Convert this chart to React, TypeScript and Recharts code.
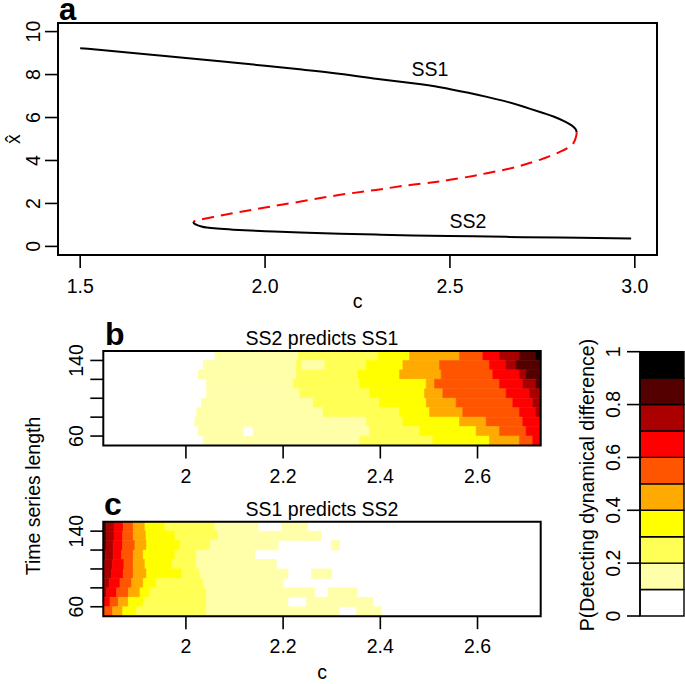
import React from 'react';
import { ComposedChart, Line, XAxis, YAxis, ReferenceArea, Scatter } from 'recharts';

const FONT = '"Liberation Sans", Arial, Helvetica, sans-serif';
const FS = 19.5;

// ---------- Panel a: equilibrium curve ----------
const ss1Branch = [
  { c: 1.5, v: 9.23 }, { c: 1.6, v: 9.07 }, { c: 1.7, v: 8.91 }, { c: 1.8, v: 8.75 },
  { c: 1.9, v: 8.58 }, { c: 2.0, v: 8.41 }, { c: 2.1, v: 8.23 }, { c: 2.2, v: 8.04 },
  { c: 2.3, v: 7.81 }, { c: 2.4, v: 7.59 }, { c: 2.473, v: 7.41 }, { c: 2.55, v: 7.15 },
  { c: 2.6, v: 6.96 }, { c: 2.653, v: 6.74 }, { c: 2.7, v: 6.5 }, { c: 2.75, v: 6.22 },
  { c: 2.78, v: 6.05 }, { c: 2.81, v: 5.82 }, { c: 2.83, v: 5.62 }, { c: 2.84, v: 5.45 },
  { c: 2.843, v: 5.3 },
];
const unstableBranch = [
  { c: 2.843, v: 5.3 }, { c: 2.841, v: 5.1 }, { c: 2.834, v: 4.81 }, { c: 2.82, v: 4.6 },
  { c: 2.8, v: 4.42 }, { c: 2.77, v: 4.2 }, { c: 2.743, v: 4.03 }, { c: 2.7, v: 3.8 },
  { c: 2.65, v: 3.58 }, { c: 2.6, v: 3.41 }, { c: 2.563, v: 3.28 }, { c: 2.5, v: 3.1 },
  { c: 2.45, v: 2.97 }, { c: 2.383, v: 2.84 }, { c: 2.3, v: 2.63 }, { c: 2.203, v: 2.4 },
  { c: 2.1, v: 2.1 }, { c: 2.0, v: 1.81 }, { c: 1.914, v: 1.55 }, { c: 1.86, v: 1.37 },
  { c: 1.824, v: 1.24 }, { c: 1.81, v: 1.18 }, { c: 1.806, v: 1.14 },
];
const ss2Branch = [
  { c: 1.806, v: 1.14 }, { c: 1.808, v: 1.07 }, { c: 1.815, v: 1.0 }, { c: 1.828, v: 0.93 },
  { c: 1.842, v: 0.88 }, { c: 1.87, v: 0.83 }, { c: 1.914, v: 0.78 }, { c: 2.0, v: 0.71 },
  { c: 2.095, v: 0.65 }, { c: 2.203, v: 0.59 }, { c: 2.3, v: 0.55 }, { c: 2.4, v: 0.51 },
  { c: 2.563, v: 0.47 }, { c: 2.7, v: 0.43 }, { c: 2.85, v: 0.4 }, { c: 2.99, v: 0.37 },
];
const aXTicks = [1.5, 2.0, 2.5, 3.0];
const aYTicks = [0, 2, 4, 6, 8, 10];

// ---------- Panels b, c: detection probability ----------
const levelColors = ['#FFFFFF', '#FFFFAA', '#FFFF55', '#FFFF00', '#FFAA00', '#FF5500', '#FF0000', '#AA0000', '#550000', '#000000'];
const levelBreaks = [0, 0.1, 0.2, 0.3, 0.4, 0.5, 0.6, 0.7, 0.8, 0.9, 1.0];
const levelTicks = [0, 0.2, 0.4, 0.6, 0.8, 1];
const cMin = 1.83;
const cMax = 2.73;
const bandLower = [140, 130, 120, 110, 100, 90, 80, 70, 60, 50];
const bandHeight = 10;
const contourXTicks = [2, 2.2, 2.4, 2.6];
const contourYTicks = [60, 80, 100, 120, 140];
const contourYLabels = [60, 140];

// each row: [c where a level starts, level index]
const ss2PredictsSs1: number[][][] = [
  [[1.83, 0], [2.0595, 1], [2.2308, 2], [2.3951, 3], [2.4602, 4], [2.5629, 5], [2.6109, 6], [2.6451, 7], [2.6862, 8], [2.7204, 9]],
  [[1.83, 0], [2.0356, 1], [2.2274, 2], [2.2377, 1], [2.2855, 2], [2.3711, 3], [2.4465, 4], [2.5218, 5], [2.6246, 6], [2.6588, 7], [2.6794, 8]],
  [[1.83, 0], [2.0253, 1], [2.2274, 2], [2.354, 3], [2.4396, 4], [2.5252, 5], [2.6314, 6], [2.6862, 7], [2.6999, 8]],
  [[1.83, 0], [2.0424, 1], [2.2205, 2], [2.3574, 3], [2.4944, 4], [2.5115, 5], [2.6451, 6], [2.6931, 7], [2.7204, 8]],
  [[1.83, 0], [2.0424, 1], [2.2342, 2], [2.378, 3], [2.491, 4], [2.5286, 5], [2.6588, 6], [2.7068, 7]],
  [[1.83, 0], [2.0321, 1], [2.2616, 2], [2.3985, 3], [2.4944, 4], [2.556, 5], [2.6725, 6], [2.7136, 7]],
  [[1.83, 0], [2.0219, 1], [2.2822, 2], [2.4396, 3], [2.5013, 4], [2.5697, 5], [2.6862, 6], [2.7204, 7]],
  [[1.83, 0], [2.0184, 1], [2.3711, 2], [2.4465, 3], [2.5629, 4], [2.6177, 5], [2.6931, 6]],
  [[1.83, 0], [2.0253, 1], [2.118, 0], [2.138, 1], [2.378, 2], [2.4807, 3], [2.5972, 4], [2.6451, 5], [2.6999, 6]],
  [[1.83, 0], [2.0356, 1], [2.3574, 2], [2.5081, 3], [2.6246, 4], [2.6862, 5], [2.7136, 6]],
];
const ss1PredictsSs2: number[][][] = [
  [[1.83, 8], [1.8369, 7], [1.852, 6], [1.8712, 5], [1.8917, 4], [1.9157, 3], [1.9568, 2], [2.0595, 1], [2.149, 0], [2.196, 1], [2.251, 0]],
  [[1.83, 8], [1.8369, 7], [1.852, 6], [1.8698, 5], [1.8917, 4], [1.9178, 3], [1.9773, 2], [2.0664, 1], [2.279, 0]],
  [[1.83, 8], [1.8355, 7], [1.8506, 6], [1.8698, 5], [1.8951, 4], [1.9191, 3], [1.9876, 2], [2.0493, 1], [2.19, 0], [2.299, 1], [2.316, 0]],
  [[1.83, 8], [1.8342, 7], [1.8506, 6], [1.8677, 5], [1.8917, 4], [1.9123, 3], [1.9773, 2], [2.0219, 1], [2.142, 0]],
  [[1.83, 8], [1.8328, 7], [1.8492, 6], [1.8725, 5], [1.8917, 4], [1.9157, 3], [1.9705, 2], [2.0219, 1], [2.186, 0]],
  [[1.83, 7], [1.8472, 6], [1.8712, 5], [1.8917, 4], [1.9191, 3], [1.991, 2], [2.0287, 1], [2.21, 0], [2.258, 1], [2.3, 0]],
  [[1.83, 7], [1.8424, 6], [1.8643, 5], [1.8883, 4], [1.9123, 3], [1.9397, 2], [2.0356, 1], [2.2, 0]],
  [[1.83, 7], [1.8369, 6], [1.8575, 5], [1.8815, 4], [1.9054, 3], [1.926, 2], [2.0424, 1], [2.265, 0], [2.292, 1], [2.352, 0]],
  [[1.83, 6], [1.8438, 5], [1.8609, 4], [1.8815, 3], [1.9123, 2], [2.0424, 1], [2.21, 0], [2.248, 1], [2.385, 0]],
  [[1.83, 5], [1.8492, 4], [1.8698, 3], [1.8986, 2], [2.0424, 1], [2.316, 0], [2.351, 1], [2.402, 0]],
];

type Seg = { x1: number; x2: number; y1: number; y2: number; level: number };
function toSegments(rows: number[][][]): Seg[] {
  const out: Seg[] = [];
  rows.forEach((row, r) => {
    row.forEach((b, i) => {
      const x2 = i + 1 < row.length ? row[i + 1][0] : cMax;
      out.push({ x1: b[0], x2, y1: bandLower[r], y2: bandLower[r] + bandHeight, level: b[1] });
    });
  });
  return out;
}

const txt = { fontFamily: FONT, fontSize: FS, fill: '#000' } as const;

function ContourPanel({ rows, top, height, marginTop }: { rows: number[][][]; top: number; height: number; marginTop: number }) {
  const segs = toSegments(rows);
  const anchor = bandLower.map((l) => ({ c: cMin, len: l + 5 }));
  const plotH = 94.5;
  const xAxisH = height - marginTop - plotH;
  const labelY = 183;
  return (
    <div style={{ position: 'absolute', left: 0, top }}>
      <ComposedChart width={560} height={height} margin={{ top: marginTop, right: 19.3, left: 0, bottom: 0 }}>
        <XAxis
          type="number" dataKey="c" domain={[cMin, cMax]} ticks={contourXTicks} interval={0}
          allowDataOverflow axisLine={false} tickSize={13} height={xAxisH}
          tickLine={{ stroke: '#000', strokeWidth: 1.6 }}
          tick={(p: any) => (
            <text x={p.x} y={labelY} textAnchor="middle" {...txt}>{String(p.payload.value)}</text>
          )}
        />
        <YAxis
          type="number" dataKey="len" domain={[50, 150]} ticks={contourYTicks} interval={0}
          allowDataOverflow axisLine={false} tickSize={13} width={103.3}
          tickLine={{ stroke: '#000', strokeWidth: 1.6 }}
          tick={(p: any) =>
            contourYLabels.includes(p.payload.value) ? (
              <text transform={`rotate(-90 83 ${p.y})`} x={83} y={p.y} textAnchor="middle" {...txt}>{String(p.payload.value)}</text>
            ) : <g />
          }
        />
        {segs.filter((s) => s.level > 0).map((s, i) => (
          <ReferenceArea key={i} x1={s.x1} x2={s.x2} y1={s.y1} y2={s.y2} ifOverflow="visible"
            fill={levelColors[s.level]} fillOpacity={1} stroke={levelColors[s.level]} strokeWidth={0.6} />
        ))}
        <Scatter data={anchor} isAnimationActive={false} shape={() => <g />} />
        <ReferenceArea x1={cMin} x2={cMax} y1={50} y2={150} ifOverflow="visible" fill="none" stroke="#000" strokeWidth={2} />
      </ComposedChart>
    </div>
  );
}

export default function App() {
  const colorSwatches = levelColors.map((col, i) => ({ y1: levelBreaks[i], y2: levelBreaks[i + 1], col }));
  return (
    <div style={{ position: 'absolute', left: 0, top: 0, width: 685, height: 684, background: '#fff', fontFamily: FONT }}>
      {/* Panel a */}
      <div style={{ position: 'absolute', left: 0, top: 0 }}>
        <ComposedChart width={685} height={310} margin={{ top: 23, right: 28, left: 0, bottom: 0 }}>
          <XAxis
            type="number" dataKey="c" domain={[1.44, 3.06]} ticks={aXTicks} interval={0}
            allowDataOverflow axisLine={false} tickSize={13} height={55}
            tickLine={{ stroke: '#000', strokeWidth: 1.6 }}
            tick={(p: any) => (
              <text x={p.x} y={293} textAnchor="middle" {...txt}>{Number(p.payload.value).toFixed(1)}</text>
            )}
          />
          <YAxis
            type="number" domain={[-0.4, 10.4]} ticks={aYTicks} interval={0}
            allowDataOverflow axisLine={false} tickSize={13} width={58}
            tickLine={{ stroke: '#000', strokeWidth: 1.6 }}
            tick={(p: any) => (
              <text transform={`rotate(-90 40 ${p.y})`} x={40} y={p.y} textAnchor="middle" {...txt}>{String(p.payload.value)}</text>
            )}
          />
          <Line data={ss1Branch} dataKey="v" type="natural" stroke="#000" strokeWidth={2} dot={false} isAnimationActive={false} />
          <Line data={unstableBranch} dataKey="v" type="natural" stroke="#FF0000" strokeWidth={2} strokeDasharray="12 7" dot={false} isAnimationActive={false} />
          <Line data={ss2Branch} dataKey="v" type="natural" stroke="#000" strokeWidth={2} dot={false} isAnimationActive={false} />
          <ReferenceArea x1={1.44} x2={3.06} y1={-0.4} y2={10.4} ifOverflow="visible" fill="none" stroke="#000" strokeWidth={2} />
        </ComposedChart>
      </div>

      <ContourPanel rows={ss2PredictsSs1} top={300} height={190} marginTop={51} />
      <ContourPanel rows={ss1PredictsSs2} top={470} height={200} marginTop={51.7} />

      {/* Colour key */}
      <div style={{ position: 'absolute', left: 560, top: 300 }}>
        <ComposedChart width={125} height={330} margin={{ top: 51.7, right: 1, left: 0, bottom: 14 }}>
          <XAxis type="number" dataKey="k" domain={[0, 1]} hide />
          <YAxis
            type="number" dataKey="p" domain={[0, 1]} ticks={levelTicks} interval={0}
            allowDataOverflow axisLine={{ stroke: '#000', strokeWidth: 1.6 }} tickSize={13} width={80}
            tickLine={{ stroke: '#000', strokeWidth: 1.6 }}
            tick={(p: any) => (
              <text transform={`rotate(-90 60 ${p.y})`} x={60} y={p.y} textAnchor="middle" {...txt}>{String(p.payload.value)}</text>
            )}
          />
          <Scatter data={[{ k: 0, p: 0 }]} isAnimationActive={false} shape={() => <g />} />
          {colorSwatches.map((s, i) => (
            <ReferenceArea key={i} x1={0} x2={1} y1={s.y1} y2={s.y2} ifOverflow="visible"
              fill={s.col} fillOpacity={1} stroke="#000" strokeWidth={1.4} />
          ))}
        </ComposedChart>
      </div>

      {/* Text overlay */}
      <svg width={685} height={684} style={{ position: 'absolute', left: 0, top: 0, pointerEvents: 'none' }}>
        <text x={59} y={20} fontFamily={FONT} fontSize={31} fontWeight="bold">a</text>
        <text x={430} y={76} textAnchor="middle" {...txt}>SS1</text>
        <text x={468} y={228} textAnchor="middle" {...txt}>SS2</text>
        <text transform="rotate(-90 20 139)" x={20} y={139} textAnchor="middle" {...txt}>x̂</text>
        <text x={357.5} y={308} textAnchor="middle" {...txt}>c</text>

        <text x={105} y={345} fontFamily={FONT} fontSize={32} fontWeight="bold">b</text>
        <text x={322} y={345} textAnchor="middle" {...txt}>SS2 predicts SS1</text>
        <text x={104} y={515} fontFamily={FONT} fontSize={32} fontWeight="bold">c</text>
        <text x={322} y={516} textAnchor="middle" {...txt}>SS1 predicts SS2</text>
        <text transform="rotate(-90 40 496)" x={40} y={496} textAnchor="middle" {...txt}>Time series length</text>
        <text x={322} y={679} textAnchor="middle" {...txt}>c</text>
        <text transform="rotate(-90 594 485)" x={594} y={485} textAnchor="middle" {...txt}>P(Detecting dynamical difference)</text>
      </svg>
    </div>
  );
}
